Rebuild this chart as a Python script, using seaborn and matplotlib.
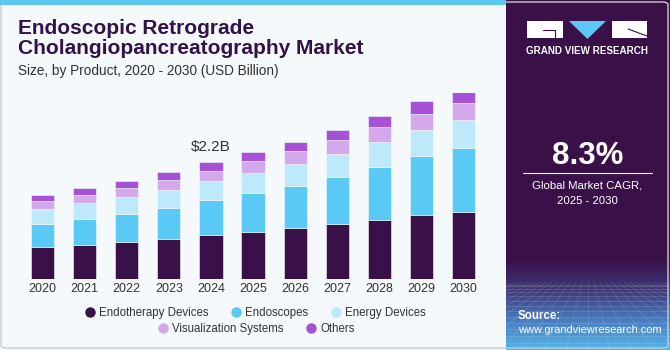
import numpy as np
import pandas as pd
import matplotlib
matplotlib.use("Agg")
import matplotlib.pyplot as plt
import seaborn as sns
from matplotlib.patches import Rectangle, FancyBboxPatch, Polygon
from matplotlib.lines import Line2D
from matplotlib.colors import LinearSegmentedColormap

# ---------------- data ----------------
years = [2020, 2021, 2022, 2023, 2024, 2025, 2026, 2027, 2028, 2029, 2030]
segments = ["Endotherapy Devices", "Endoscopes", "Energy Devices",
            "Visualization Systems", "Others"]
endotherapy = [0.597, 0.629, 0.686, 0.742, 0.818, 0.881, 0.956, 1.031, 1.113, 1.208, 1.264]
endoscopes = [0.434, 0.491, 0.535, 0.597, 0.660, 0.736, 0.792, 0.887, 0.994, 1.107, 1.201]
energy = [0.283, 0.308, 0.321, 0.340, 0.365, 0.384, 0.409, 0.440, 0.465, 0.491, 0.522]
visualization = [0.145, 0.151, 0.164, 0.176, 0.195, 0.220, 0.258, 0.252, 0.283, 0.302, 0.321]
others = [0.119, 0.126, 0.138, 0.151, 0.164, 0.170, 0.164, 0.201, 0.214, 0.239, 0.239]
colors = ["#3A1048", "#5BC9F5", "#BDE9FA", "#D4A9EC", "#A651D6"]
annot_year = 2024
cagr = "8.3%"

series = [endotherapy, endoscopes, energy, visualization, others]
df = pd.DataFrame({
    "Year": [y for s in series for y in years],
    "Segment": [seg for seg, s in zip(segments, series) for _ in years],
    "Value": [v for s in series for v in s],
})

# ---------------- figure ----------------
BG = "#F5F9FC"
sns.set_theme(style="white")
plt.rcParams["font.family"] = ["Liberation Sans", "DejaVu Sans"]

fig = plt.figure(figsize=(6.7, 3.5), dpi=100)
fig.patch.set_facecolor(BG)

W, H = 670, 350
def fx(px):
    return px / W
def fy(py):
    return 1 - py / H

# frame border
fig.patches.append(FancyBboxPatch((fx(1), fy(348)), fx(667), 346 / H,
                                  boxstyle="round,pad=0,rounding_size=0.008",
                                  transform=fig.transFigure, facecolor="none",
                                  edgecolor="#CCCCCC", linewidth=1.0, zorder=0))
# top blue strip
fig.patches.append(Rectangle((0, fy(5)), fx(506), 5 / H, transform=fig.transFigure,
                             facecolor="#5BC8F2", edgecolor="none", zorder=1))

# ---------------- main axes ----------------
ax = fig.add_axes([fx(21.5), fy(278.7), fx(463.1), 185.5 / H])
ax.set_facecolor("none")
palette = dict(zip(segments, colors))
sns.histplot(data=df, x="Year", weights="Value", hue="Segment",
             hue_order=segments[::-1], palette=palette, multiple="stack",
             discrete=True, shrink=0.55, alpha=1, linewidth=0.4,
             edgecolor="#F5F9FC", legend=False, ax=ax)
ax.set_xlim(years[0] - 0.5, years[-1] + 0.5)
ax.set_ylim(0, 3.5)
ax.set_xticks(years)
ax.set_xticklabels([str(y) for y in years], fontsize=9, color="#333333")
ax.tick_params(axis="x", length=0, pad=3)
ax.set_yticks([])
ax.set_xlabel("")
ax.set_ylabel("")
for sp in ax.spines.values():
    sp.set_visible(False)

idx = years.index(annot_year)
total = sum(s[idx] for s in series)
ax.annotate(f"${total:.1f}B", xy=(annot_year, total), xytext=(0, 6),
            textcoords="offset points", ha="center", va="bottom",
            fontsize=11, color="#333333")

# ---------------- titles ----------------
fig.text(fx(18), fy(28), "Endoscopic Retrograde", fontsize=15, fontweight="bold",
         color="#33124A", va="center", ha="left")
fig.text(fx(18), fy(48), "Cholangiopancreatography Market", fontsize=15,
         fontweight="bold", color="#33124A", va="center", ha="left")
fig.text(fx(18), fy(71), "Size, by Product, 2020 - 2030 (USD Billion)", fontsize=9.8,
         color="#333333", va="center", ha="left")

# ---------------- legend ----------------
def handle(c):
    return Line2D([], [], marker="o", linestyle="none", markersize=6.5,
                  markerfacecolor=c, markeredgecolor=c)

leg_kw = dict(loc="center", frameon=False, fontsize=8.3, handletextpad=0.3,
              columnspacing=1.9, handlelength=1.0, borderaxespad=0)
leg1 = fig.legend([handle(c) for c in colors[:3]], segments[:3], ncol=3,
                  bbox_to_anchor=(fx(255), fy(313)), **leg_kw)
for t in leg1.get_texts():
    t.set_color("#333333")
leg2 = fig.legend([handle(c) for c in colors[3:]], segments[3:], ncol=2,
                  bbox_to_anchor=(fx(256), fy(329)), **leg_kw)
for t in leg2.get_texts():
    t.set_color("#333333")

# ---------------- right panel ----------------
PURPLE = "#3A1048"
pax = fig.add_axes([fx(506), 0, fx(164), 1])
pax.set_xlim(506, 670)
pax.set_ylim(350, 0)
pax.axis("off")
pax.add_patch(Rectangle((506, 0), 164, 350, facecolor=PURPLE, edgecolor="none"))
grad = np.linspace(0, 1, 100)[:, None]
cmap = LinearSegmentedColormap.from_list("g", ["#3A1450", "#3F3A7A", "#4A7DBF", "#55B4E8"])
pax.imshow(grad, extent=(506, 670, 350, 262), cmap=cmap, aspect="auto", zorder=1)
for k in range(14):
    yy = 285 + (k ** 1.5) * 1.4
    pax.plot([506, 670], [yy, yy], color="white", alpha=0.15, lw=0.6, zorder=2)
for k in range(-12, 24):
    x0 = 588 + k * 6
    x1 = 588 + k * 22
    pax.plot([x0, x1], [282, 350], color="white", alpha=0.13, lw=0.6, zorder=2)

# logo
pax.add_patch(Rectangle((527, 21), 36, 17, facecolor="white", edgecolor="none", zorder=3))
pax.plot([543, 555, 555], [30, 30, 38], color=PURPLE, lw=0.8, zorder=4)
pax.add_patch(Polygon([[569, 21], [606, 21], [587.5, 39]], closed=True,
                      facecolor="#5BC8F5", edgecolor="none", zorder=3))
pax.add_patch(Rectangle((612, 21), 35, 17, facecolor="white", edgecolor="none", zorder=3))
pax.plot([628, 647], [29, 36], color=PURPLE, lw=0.8, zorder=4)
pax.text(587, 51, "GRAND VIEW RESEARCH", color="white", fontsize=7.1,
         fontweight="bold", ha="center", va="center", zorder=3)

pax.text(587.5, 156, cagr, color="white", fontsize=22.5, fontweight="bold",
         ha="center", va="center", zorder=3)
pax.plot([523, 652], [173, 173], color="white", lw=0.8, zorder=3)
pax.text(587, 186, "Global Market CAGR,", color="white", fontsize=8.2,
         ha="center", va="center", zorder=3)
pax.text(587, 201, "2025 - 2030", color="white", fontsize=8.2,
         ha="center", va="center", zorder=3)
pax.text(518, 316, "Source:", color="white", fontsize=8.3, fontweight="bold",
         ha="left", va="center", zorder=3)
pax.text(518, 330, "www.grandviewresearch.com", color="white", fontsize=7.9,
         ha="left", va="center", zorder=3)

fig.savefig("out.png", dpi=100, facecolor=fig.get_facecolor())
